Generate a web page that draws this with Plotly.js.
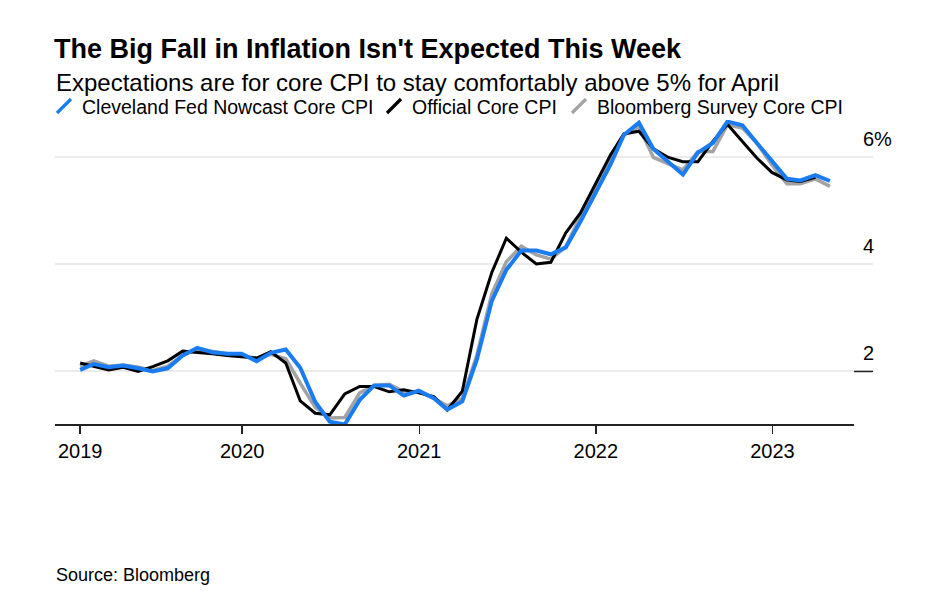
<!DOCTYPE html>
<html>
<head>
<meta charset="utf-8">
<script src="https://cdn.plot.ly/plotly-3.0.1.min.js"></script>
<style>html,body{margin:0;padding:0;background:#fff;}#chart{width:929px;height:597px;}</style>
</head>
<body>
<div id="chart"></div>
<script>
const months = [
 '2019-01','2019-02','2019-03','2019-04','2019-05','2019-06','2019-07','2019-08','2019-09','2019-10','2019-11','2019-12',
 '2020-01','2020-02','2020-03','2020-04','2020-05','2020-06','2020-07','2020-08','2020-09','2020-10','2020-11','2020-12',
 '2021-01','2021-02','2021-03','2021-04','2021-05','2021-06','2021-07','2021-08','2021-09','2021-10','2021-11','2021-12',
 '2022-01','2022-02','2022-03','2022-04','2022-05','2022-06','2022-07','2022-08','2022-09','2022-10','2022-11','2022-12',
 '2023-01','2023-02','2023-03','2023-04'
];
const cleveland = [
 2.03,2.14,2.08,2.11,2.06,2.00,2.06,2.30,2.44,2.36,2.33,2.33,
 2.19,2.35,2.41,2.07,1.43,1.06,1.01,1.47,1.74,1.74,1.55,1.64,
 1.50,1.29,1.44,2.22,3.32,3.90,4.26,4.26,4.19,4.32,4.80,5.33,
 5.86,6.42,6.65,6.16,5.91,5.68,6.09,6.27,6.67,6.60,6.27,5.92,
 5.60,5.57,5.67,5.56
];
const official = [
 2.16,2.10,2.03,2.08,2.00,2.09,2.20,2.38,2.36,2.33,2.30,2.28,
 2.25,2.37,2.16,1.45,1.22,1.19,1.58,1.72,1.72,1.62,1.66,1.60,
 1.53,1.28,1.63,2.97,3.85,4.49,4.23,4.01,4.04,4.59,4.96,5.50,
 6.04,6.44,6.49,6.16,6.00,5.92,5.92,6.30,6.62,6.30,5.99,5.72,
 5.58,5.55,5.63
];
const survey = [
 2.10,2.20,2.10,2.12,2.08,2.02,2.10,2.30,2.42,2.38,2.33,2.30,
 2.25,2.32,2.24,1.78,1.33,1.13,1.14,1.60,1.74,1.76,1.62,1.62,
 1.50,1.36,1.50,2.30,3.45,4.05,4.34,4.18,4.10,4.33,4.90,5.40,
 5.95,6.42,6.58,6.00,5.88,5.77,6.11,6.11,6.61,6.55,6.27,5.86,
 5.51,5.51,5.60,5.46
];
const seriesNames = ['Cleveland Fed Nowcast Core CPI','Official Core CPI','Bloomberg Survey Core CPI'];
const seriesColors = ['#1a7cf2','#000000','#a3a3a3'];
const tickYears = ['2019','2020','2021','2022','2023'];
const yTicks = [2,4,6];
const yTickText = ['2','4','6%'];
const titleText = "The Big Fall in Inflation Isn't Expected This Week";
const subtitleText = 'Expectations are for core CPI to stay comfortably above 5% for April';
const sourceText = 'Source: Bloomberg';

function monthEnd(m){
  const p = m.split('-').map(Number);
  return new Date(Date.UTC(p[0], p[1], 0)).toISOString().slice(0,10);
}
const dates = months.map(monthEnd);
const tickVals = tickYears.map((y,i)=> i===0 ? dates[0] : y + '-01-01');

const FONT = '"Liberation Sans", Arial, Helvetica, sans-serif';
const W = 929, H = 597;
const L = 55, R = 56, T = 120, B = 172;
const pw = W - L - R, ph = H - T - B;
const px = X => (X - L) / pw;
const py = Y => (H - B - Y) / ph;

const traces = [
  {x: dates.slice(0, survey.length), y: survey, name: seriesNames[2], type: 'scatter', mode: 'lines',
   line: {color: seriesColors[2], width: 3.5}},
  {x: dates.slice(0, official.length), y: official, name: seriesNames[1], type: 'scatter', mode: 'lines',
   line: {color: seriesColors[1], width: 3}},
  {x: dates.slice(0, cleveland.length), y: cleveland, name: seriesNames[0], type: 'scatter', mode: 'lines',
   line: {color: seriesColors[0], width: 4}}
];

const legendSlash = [57, 387, 572];
const legendText = [80, 410, 595];
const shapes = [];
const annotations = [];
seriesNames.forEach((n,i)=>{
  shapes.push({type:'line', xref:'paper', yref:'paper', x0:px(legendSlash[i]), x1:px(legendSlash[i]+14),
    y0:py(113), y1:py(99), line:{color:seriesColors[i], width:3.2}});
  annotations.push({text:n, xref:'paper', yref:'paper', x:px(legendText[i]), y:py(106.5),
    xanchor:'left', yanchor:'middle', showarrow:false, font:{family:FONT, size:19.5, color:'#000'}});
});
// x axis line (stops before the right-hand label column)
shapes.push({type:'line', xref:'paper', yref:'paper', x0:0, x1:px(854), y0:0, y1:0, line:{color:'#222', width:2}});
// dark tick at the lowest labelled gridline
shapes.push({type:'line', xref:'paper', yref:'y', x0:px(854), x1:1, y0:yTicks[0], y1:yTicks[0], line:{color:'#222', width:1.5}});

yTicks.forEach((v,i)=>{
  annotations.push({text:yTickText[i], xref:'paper', yref:'y', x:px(861), y:v, yshift:18,
    xanchor:'left', yanchor:'middle', showarrow:false, font:{family:FONT, size:20, color:'#000'}});
});
annotations.push({text:subtitleText, xref:'paper', yref:'paper', x:px(54), y:py(83), xanchor:'left', yanchor:'middle',
  showarrow:false, font:{family:FONT, size:24, color:'#000'}});
annotations.push({text:sourceText, xref:'paper', yref:'paper', x:px(54), y:py(575), xanchor:'left', yanchor:'middle',
  showarrow:false, font:{family:FONT, size:18, color:'#000'}});

const layout = {
  width: W, height: H,
  margin: {l: L, r: R, t: T, b: B},
  paper_bgcolor: '#fff', plot_bgcolor: '#fff',
  showlegend: false,
  title: {text: '<b>' + titleText + '</b>', xref: 'container', yref: 'container',
    x: 54 / W, y: 1 - 49 / H, xanchor: 'left', yanchor: 'middle',
    font: {family: FONT, size: 27, color: '#000'}},
  xaxis: {type: 'date', range: ['2018-12-10', '2023-07-28'], tickvals: tickVals, ticktext: tickYears,
    showgrid: false, zeroline: false, showline: false, ticks: 'outside', ticklen: 8, tickwidth: 1.5,
    tickcolor: '#222', tickfont: {family: FONT, size: 20, color: '#000'}, fixedrange: true},
  yaxis: {range: [1, 6.7], tickvals: yTicks, showticklabels: false, showgrid: true, gridcolor: '#ebebeb',
    gridwidth: 2, zeroline: false, showline: false, ticks: '', fixedrange: true},
  shapes: shapes,
  annotations: annotations,
  font: {family: FONT}
};
Plotly.newPlot('chart', traces, layout, {displayModeBar: false, staticPlot: true});
</script>
</body>
</html>
